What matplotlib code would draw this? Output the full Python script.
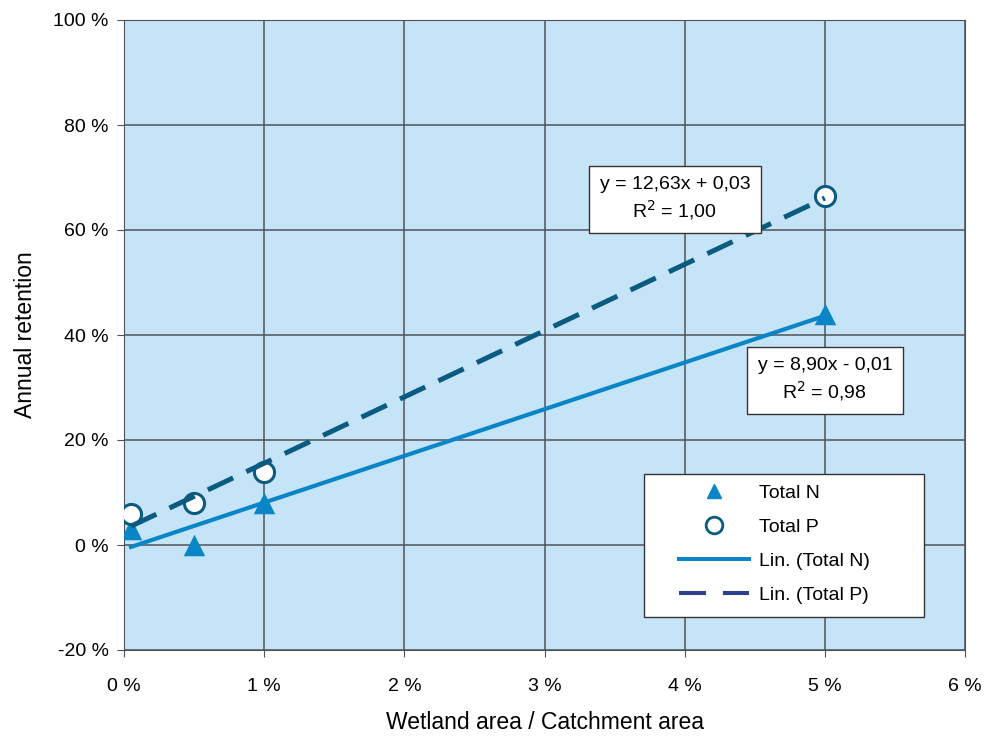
import numpy as np
import matplotlib.pyplot as plt
from matplotlib.lines import Line2D
from matplotlib.patches import Rectangle
from matplotlib.ticker import FuncFormatter

plt.rcParams['font.family'] = ['Liberation Sans', 'DejaVu Sans']

# wetland area / catchment area (fraction)
x_n = [0.0005, 0.005, 0.01, 0.05]
ret_n = [0.03, 0.0, 0.08, 0.44]
x_p = [0.0005, 0.005, 0.01, 0.05]
ret_p = [0.06, 0.08, 0.14, 0.665]

eq_n = "y = 8,90x - 0,01\nR$^2$ = 0,98"
eq_p = "y = 12,63x + 0,03\nR$^2$ = 1,00"

c_n = '#0a86c6'
c_p = '#0b5b80'
c_p_leg = '#2e3f8f'
bg = '#c6e4f8'
grid_c = '#4d5358'

fig = plt.figure(figsize=(9.97, 7.37), dpi=100)
ax = fig.add_axes([124 / 997, 87 / 737, 841 / 997, 630 / 737])
ax.set_facecolor(bg)

ax.scatter(x_n, ret_n, marker='^', s=240, color=c_n, zorder=3, linewidths=0)
ax.scatter(x_p, ret_p, marker='o', s=210, facecolor='white', edgecolor=c_p,
           linewidths=2.2, zorder=3)

# trend lines (drawn over the markers, as in the original)
kn = np.polyfit(x_n, ret_n, 1)
kp = np.polyfit(x_p, ret_p, 1)
xs = np.array([min(x_n), max(x_n)])
ax.plot(xs, np.polyval(kn, xs), color=c_n, lw=3, zorder=4)
ax.plot(xs, np.polyval(kp, xs), color=c_p, lw=3.6, dashes=(5.6, 2.9), zorder=4)

ax.set_xlim(0, 0.06)
ax.set_ylim(-0.2, 1.0)
ax.set_xticks(np.arange(0, 0.061, 0.01))
ax.set_yticks(np.arange(-0.2, 1.01, 0.2))
ax.xaxis.set_major_formatter(FuncFormatter(lambda v, p: f"{v * 100:.0f} %"))
ax.yaxis.set_major_formatter(FuncFormatter(lambda v, p: f"{v * 100:.0f} %"))
ax.grid(True, color=grid_c, lw=1.1)
ax.set_axisbelow(True)
for s in ax.spines.values():
    s.set_color(grid_c)
ax.tick_params(axis='both', labelsize=14, length=5, color=grid_c, pad=6)
ax.tick_params(axis='x', pad=15)

ax.set_xlabel('Wetland area / Catchment area', fontsize=16.5, labelpad=12)
ax.set_ylabel('Annual retention', fontsize=16.5, labelpad=12)

box = dict(boxstyle='square,pad=0.55', fc='white', ec='#333333', lw=1)
ax.text(0.0393, 0.659, eq_p, fontsize=14, ha='center', va='center',
        linespacing=1.3, bbox=box, zorder=6)
ax.text(0.05, 0.314, eq_n, fontsize=14, ha='center', va='center',
        linespacing=1.3, bbox=box, zorder=6)

# legend box
ax.add_patch(Rectangle((0.6183, 0.0524), 0.3329, 0.227, transform=ax.transAxes,
                       fc='white', ec='#333333', lw=1, zorder=6))
handles = [
    Line2D([], [], marker='^', ls='none', color=c_n, markersize=10),
    Line2D([], [], marker='o', ls='none', markerfacecolor='white',
           markeredgecolor=c_p, markeredgewidth=2, markersize=12),
    Line2D([], [], color=c_n, lw=2.9),
    Line2D([], [], color=c_p_leg, lw=2.9, dashes=(6.7, 4.2)),
]
labels = ['Total N', 'Total P', 'Lin. (Total N)', 'Lin. (Total P)']
leg = ax.legend(handles, labels, loc='upper left', bbox_to_anchor=(0.66, 0.2625),
                fontsize=14, frameon=False, handlelength=3.6, labelspacing=0.84,
                borderpad=0, borderaxespad=0, handletextpad=0.5)
leg.set_zorder(7)

fig.savefig('out.png', dpi=100)
